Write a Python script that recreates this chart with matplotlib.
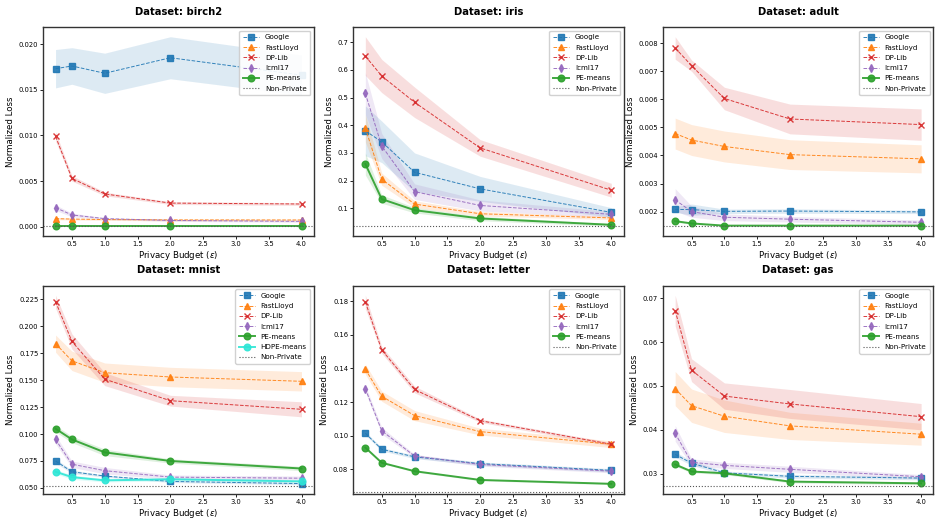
import matplotlib
matplotlib.use("Agg")
import matplotlib.pyplot as plt
import numpy as np

# privacy budgets
eps = [0.25, 0.5, 1.0, 2.0, 4.0]

methods = ["Google", "FastLloyd", "DP-Lib", "Icml17", "PE-means", "HDPE-means"]

# mean normalized loss per dataset
birch2_mean = {
    "Google": [0.0173, 0.0176, 0.0168, 0.0185, 0.0166],
    "FastLloyd": [0.0009, 0.00085, 0.0008, 0.00076, 0.00075],
    "DP-Lib": [0.0099, 0.0053, 0.0036, 0.0026, 0.0025],
    "Icml17": [0.0021, 0.0013, 0.0009, 0.0007, 0.0006],
    "PE-means": [0.0001, 0.0001, 0.0001, 0.0001, 0.0001],
}
birch2_err = {
    "Google": [0.0021, 0.002, 0.0022, 0.0023, 0.0022],
    "FastLloyd": [0.00012, 0.0001, 0.0001, 0.0001, 0.0001],
    "DP-Lib": [0.0005, 0.0003, 0.0002, 0.00015, 0.00015],
    "Icml17": [0.0003, 0.0002, 0.0001, 0.0001, 0.0001],
    "PE-means": [0.00003, 0.00003, 0.00003, 0.00003, 0.00003],
}
iris_mean = {
    "Google": [0.38, 0.34, 0.23, 0.17, 0.085],
    "FastLloyd": [0.39, 0.205, 0.115, 0.08, 0.065],
    "DP-Lib": [0.65, 0.578, 0.483, 0.318, 0.165],
    "Icml17": [0.515, 0.325, 0.16, 0.11, 0.078],
    "PE-means": [0.26, 0.133, 0.093, 0.063, 0.04],
}
iris_err = {
    "Google": [0.09, 0.075, 0.07, 0.045, 0.017],
    "FastLloyd": [0.05, 0.022, 0.012, 0.008, 0.006],
    "DP-Lib": [0.07, 0.06, 0.055, 0.03, 0.025],
    "Icml17": [0.075, 0.045, 0.028, 0.02, 0.01],
    "PE-means": [0.04, 0.015, 0.01, 0.008, 0.005],
}
adult_mean = {
    "Google": [0.00208, 0.00207, 0.00201, 0.00202, 0.00199],
    "FastLloyd": [0.00478, 0.00455, 0.00432, 0.00403, 0.00388],
    "DP-Lib": [0.00783, 0.0072, 0.00603, 0.0053, 0.0051],
    "Icml17": [0.00242, 0.002, 0.0018, 0.00173, 0.00162],
    "PE-means": [0.00166, 0.00158, 0.0015, 0.0015, 0.0015],
}
adult_err = {
    "Google": [0.0001, 0.0002, 0.00008, 0.00008, 0.00006],
    "FastLloyd": [0.00055, 0.00055, 0.00055, 0.00053, 0.0005],
    "DP-Lib": [0.0004, 0.0002, 0.0004, 0.00053, 0.00056],
    "Icml17": [0.0004, 0.0002, 0.00012, 0.0001, 0.00008],
    "PE-means": [0.00004, 0.00003, 0.00002, 0.00002, 0.00002],
}
mnist_mean = {
    "Google": [0.075, 0.065, 0.061, 0.056, 0.054],
    "FastLloyd": [0.184, 0.168, 0.157, 0.153, 0.149],
    "DP-Lib": [0.223, 0.186, 0.151, 0.131, 0.123],
    "Icml17": [0.095, 0.072, 0.066, 0.060, 0.059],
    "PE-means": [0.105, 0.095, 0.083, 0.075, 0.068],
    "HDPE-means": [0.065, 0.060, 0.057, 0.058, 0.056],
}
mnist_err = {
    "Google": [0.002, 0.0015, 0.001, 0.001, 0.001],
    "FastLloyd": [0.008, 0.009, 0.009, 0.009, 0.009],
    "DP-Lib": [0.006, 0.007, 0.006, 0.005, 0.007],
    "Icml17": [0.004, 0.003, 0.003, 0.002, 0.002],
    "PE-means": [0.003, 0.003, 0.003, 0.002, 0.002],
    "HDPE-means": [0.002, 0.002, 0.0015, 0.0015, 0.0015],
}
letter_mean = {
    "Google": [0.1015, 0.092, 0.0875, 0.0835, 0.0795],
    "FastLloyd": [0.1395, 0.1235, 0.112, 0.1025, 0.095],
    "DP-Lib": [0.1795, 0.151, 0.1275, 0.109, 0.095],
    "Icml17": [0.128, 0.103, 0.088, 0.083, 0.079],
    "PE-means": [0.093, 0.084, 0.079, 0.0738, 0.0715],
}
letter_err = {
    "Google": [0.001, 0.001, 0.001, 0.001, 0.001],
    "FastLloyd": [0.003, 0.003, 0.003, 0.002, 0.002],
    "DP-Lib": [0.004, 0.002, 0.002, 0.001, 0.001],
    "Icml17": [0.002, 0.002, 0.001, 0.001, 0.001],
    "PE-means": [0.0005, 0.0005, 0.0005, 0.0005, 0.0005],
}
gas_mean = {
    "Google": [0.0344, 0.0324, 0.0302, 0.0294, 0.029],
    "FastLloyd": [0.0494, 0.0455, 0.0431, 0.0409, 0.039],
    "DP-Lib": [0.0672, 0.0536, 0.0477, 0.0459, 0.0430],
    "Icml17": [0.0392, 0.0326, 0.0319, 0.031, 0.0293],
    "PE-means": [0.0321, 0.0305, 0.0301, 0.0282, 0.0278],
}
gas_err = {
    "Google": [0.0006, 0.0005, 0.0004, 0.0004, 0.0004],
    "FastLloyd": [0.0039, 0.0038, 0.0037, 0.0031, 0.0025],
    "DP-Lib": [0.0035, 0.0026, 0.003, 0.0033, 0.003],
    "Icml17": [0.0018, 0.0008, 0.0007, 0.0007, 0.0005],
    "PE-means": [0.0004, 0.0003, 0.0003, 0.0003, 0.0003],
}

datasets = ["birch2", "iris", "adult", "mnist", "letter", "gas"]
means = [birch2_mean, iris_mean, adult_mean, mnist_mean, letter_mean, gas_mean]
errs = [birch2_err, iris_err, adult_err, mnist_err, letter_err, gas_err]
non_private = [0.0001, 0.035, 0.00148, 0.052, 0.0665, 0.0273]

styles = {
    "Google": dict(color="#1f77b4", marker="s", ls="--", lw=0.7, ms=4),
    "FastLloyd": dict(color="#ff7f0e", marker="^", ls="--", lw=0.7, ms=4),
    "DP-Lib": dict(color="#d62728", marker="x", ls="--", lw=0.7, ms=4),
    "Icml17": dict(color="#9467bd", marker="d", ls="--", lw=0.7, ms=4),
    "PE-means": dict(color="#2ca02c", marker="o", ls="-", lw=1.4, ms=4.8),
    "HDPE-means": dict(color="#2ee6d6", marker="o", ls="-", lw=1.4, ms=4.8),
}

fig, axes = plt.subplots(2, 3, figsize=(9.4, 5.24), dpi=100)
fig.subplots_adjust(left=0.046, right=0.993, top=0.948, bottom=0.057,
                    hspace=0.24, wspace=0.145)

for ax, name, m, e, npv in zip(axes.flat, datasets, means, errs, non_private):
    for meth in methods:
        if meth not in m:
            continue
        st = styles[meth]
        y = np.array(m[meth])
        d = np.array(e[meth])
        ax.fill_between(eps, y - d, y + d, color=st["color"], alpha=0.15, lw=0)
        ax.plot(eps, y, label=meth, color=st["color"], marker=st["marker"],
                linestyle=st["ls"], linewidth=st["lw"], markersize=st["ms"],
                alpha=0.9)
    ax.axhline(npv, color="#555555", ls=":", lw=0.8, label="Non-Private")
    ax.set_title(f"Dataset: {name}", fontsize=7.2, fontweight="bold", pad=9)
    ax.set_xlabel("Privacy Budget ($\\epsilon$)", fontsize=6.2, labelpad=1.5)
    ax.set_ylabel("Normalized Loss", fontsize=6.2, labelpad=2.5)
    ax.set_xticks([0.5, 1.0, 1.5, 2.0, 2.5, 3.0, 3.5, 4.0])
    ax.tick_params(labelsize=4.9, length=2, width=0.6, pad=1.5)
    for sp in ax.spines.values():
        sp.set_color("#333333")
        sp.set_linewidth(1.0)
    ax.legend(loc="upper right", fontsize=5.1, handlelength=2.3,
              borderpad=0.5, labelspacing=0.6, framealpha=0.9)

plt.savefig("out.png", dpi=100)
